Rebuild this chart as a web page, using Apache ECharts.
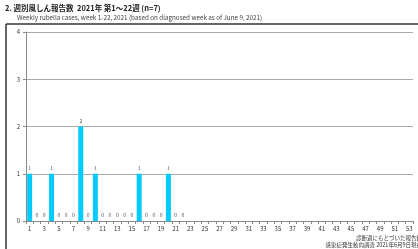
<!DOCTYPE html>
<html><head><meta charset="utf-8">
<script src="https://cdn.jsdelivr.net/npm/echarts@6/dist/echarts.min.js"></script>
<style>html,body{margin:0;padding:0;background:#fff;}#c{width:418px;height:249px;}</style>
</head><body><div id="c"></div>
<script>
const weeks = Array.from({length:53},(_,i)=>String(i+1));
const cases = [1,0,0,1,0,0,0,2,0,1,0,0,0,0,0,1,0,0,0,1,0,0];
const yTicks = [0,1,2,3,4];
const titleText = '2. 週別風しん報告数  2021年 第1～22週 (n=7)';
const subText = 'Weekly rubella cases, week 1-22, 2021 (based on diagnosed week as of June 9, 2021)';
const note1 = '診断週にもとづいた報告数';
const note2 = '感染症発生動向調査 2021年6月9日現在';
const F = '"Noto Sans CJK JP","Noto Sans",sans-serif';
const chart = echarts.init(document.getElementById('c'));
chart.setOption({
  animation:false,
  title:[{text:titleText,left:5,top:4,padding:0,textStyle:{fontSize:7.5,fontWeight:'bold',color:'#222',fontFamily:F}},
         {text:subText,left:17,top:14,padding:0,textStyle:{fontSize:6.3,fontWeight:'normal',color:'#444',fontFamily:F}}],
  grid:{left:26,right:5,top:32,bottom:28,outerBoundsMode:'none',containLabel:false},
  xAxis:{type:'category',data:weeks,boundaryGap:true,
    name:'週',nameLocation:'end',nameGap:1,nameTextStyle:{fontSize:6,color:'#333',fontFamily:F,verticalAlign:'top',padding:[4,0,0,0]},
    axisLine:{lineStyle:{color:'#888',width:1}},
    axisTick:{show:true,interval:0,length:3,lineStyle:{color:'#888'}},
    axisLabel:{interval:1,fontSize:6,color:'#333',margin:5,fontFamily:F}},
  yAxis:{type:'value',min:0,max:4,interval:1,
    axisLine:{show:true,lineStyle:{color:'#888'}},
    axisTick:{show:true,length:3,lineStyle:{color:'#888'}},
    axisLabel:{fontSize:6,color:'#333',margin:6,fontFamily:F},
    splitLine:{lineStyle:{color:'#aaa',width:1}}},
  series:[{type:'bar',data:cases,barWidth:5,itemStyle:{color:'#00ccff'},
    label:{show:true,position:'top',distance:3,fontSize:5,color:'#555',fontFamily:F}}],
  graphic:[
    {type:'line',shape:{x1:6,y1:24,x2:418,y2:24},style:{stroke:'#333',lineWidth:1.5}},
    {type:'line',shape:{x1:6,y1:24,x2:6,y2:249},style:{stroke:'#333',lineWidth:1.5}},
    {type:'text',right:-4,top:235,style:{text:note1,fontSize:5.5,fill:'#333',fontFamily:F}},
    {type:'text',right:-4,top:242,style:{text:note2,fontSize:5.5,fill:'#333',fontFamily:F}}
  ]
});
</script></body></html>
